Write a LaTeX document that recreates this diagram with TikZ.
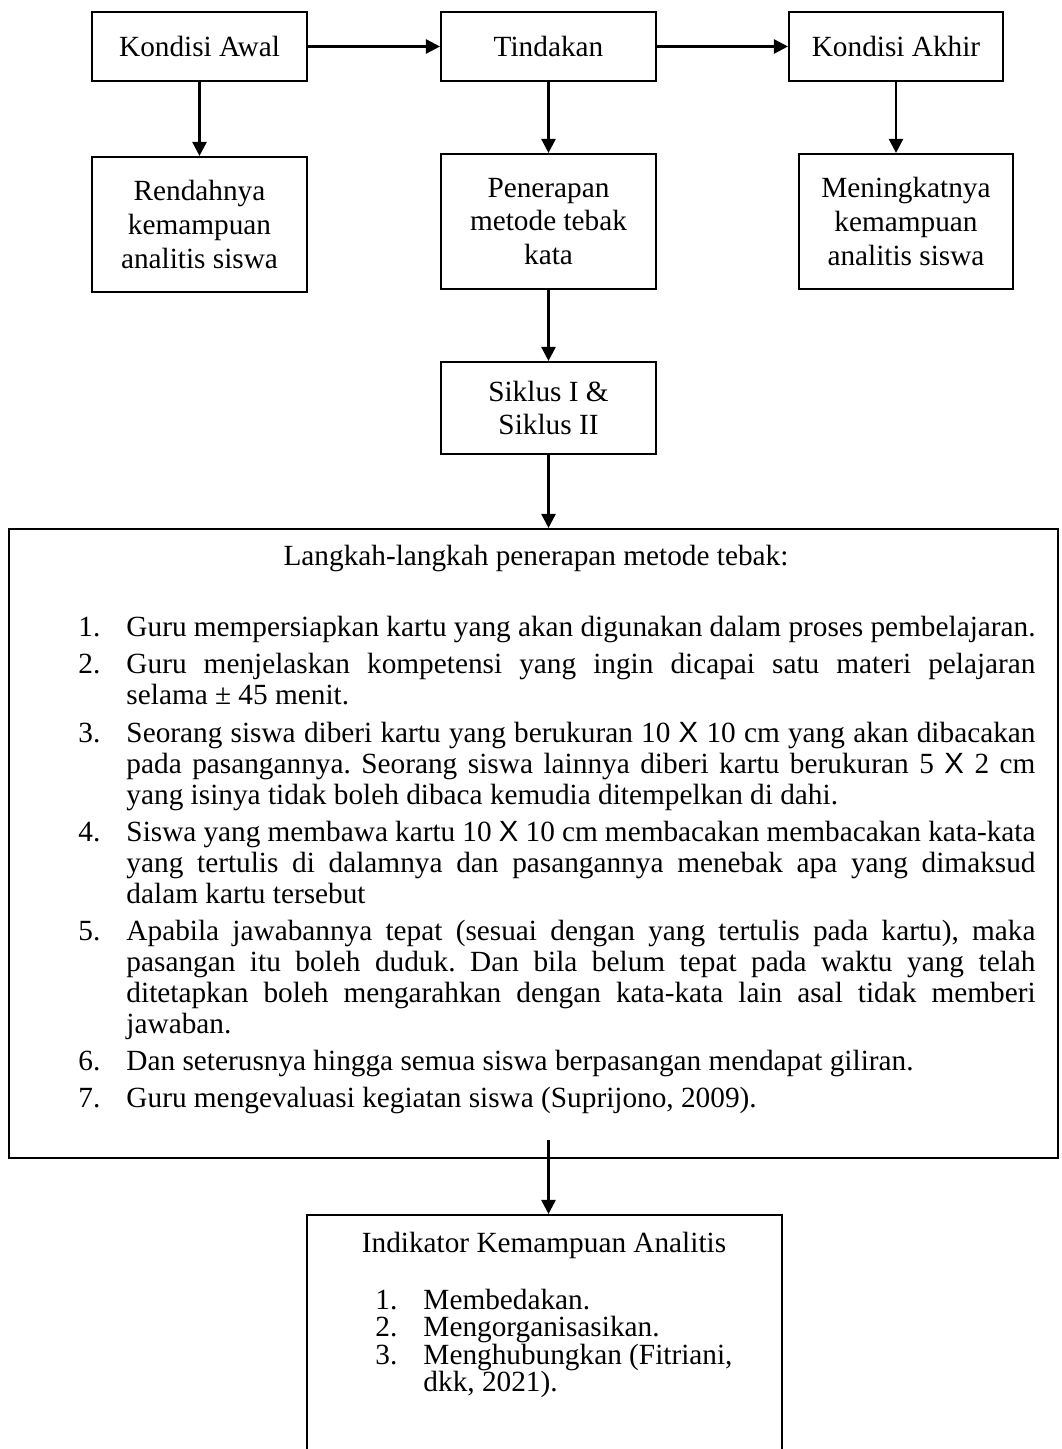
\documentclass[tikz,border=0pt]{standalone}
\usepackage{fontspec}
\setmainfont{Liberation Serif}
\newfontfamily\crossfont{Liberation Sans}
\usetikzlibrary{positioning,arrows.meta}

\newlength\px
\setlength\px{0.01441cm}
\newcommand{\kali}{{\crossfont X}}
\newcommand{\langkah}[2]{\noindent\llap{\makebox[48\px][l]{#1.}}\rule{0pt}{10pt}#2\par}

\tikzset{
  box/.style={draw, line width=0.85pt, align=center, inner sep=0pt,
    font=\fontsize{12}{13.8}\selectfont},
  panel/.style={draw, line width=0.85pt, inner sep=0pt},
  flow/.style={-{Triangle[length=5.8pt,width=5.8pt]}, line width=1pt},
}

\begin{document}
\frenchspacing
\begin{tikzpicture}[x=0.01441cm, y=-0.01441cm]
    \useasboundingbox (0,0) rectangle (1061,1449);
    \clip (0,0) rectangle (1061,1449);

    % Top row
    \node[box, minimum width=215\px, minimum height=69\px] (awal) at (199.5,46.5) {Kondisi Awal};
    \node[box, minimum width=215\px, minimum height=69\px] (tindakan) at (548.5,46.5) {Tindakan};
    \node[box, minimum width=214\px, minimum height=69\px] (akhir) at (896,46.5) {Kondisi Akhir};

    % Second row
    \node[box, minimum width=215\px, minimum height=135\px] (rendah) at (199.5,224.5) {Rendahnya\\kemampuan\\analitis siswa};
    \node[box, minimum width=215\px, minimum height=135\px] (terap) at (548.5,221.5) {Penerapan\\metode tebak\\kata};
    \node[box, minimum width=214\px, minimum height=135\px] (tingkat) at (906,221.5) {Meningkatnya\\kemampuan\\analitis siswa};
    \node[box, minimum width=215\px, minimum height=92\px] (siklus) at (548.5,408) {Siklus I \&\\Siklus II};

    % Steps panel
    \node[panel, minimum width=1049\px, minimum height=629\px] (langkah) at (533.4,843.5) {};
    \node[anchor=base, font=\fontsize{12}{13.8}\selectfont] (judul) at (536,565) {Langkah-langkah penerapan metode tebak:};
    \node[anchor=north west, text width=909\px, align=justify, inner sep=0pt,
      font=\fontsize{12}{12.7}\selectfont] (daftar) at (126,612) {%
      \setlength{\parskip}{2.5pt}\hyphenpenalty=10000 \tolerance=9999 %
      \langkah{1}{Guru mempersiapkan kartu yang akan digunakan dalam proses pembelajaran.}
      \langkah{2}{Guru menjelaskan kompetensi yang ingin dicapai satu materi pelajaran\linebreak
        selama ± 45 menit.}
      \langkah{3}{Seorang siswa diberi kartu yang berukuran 10 \kali{} 10 cm yang akan dibacakan\linebreak
        pada pasangannya. Seorang siswa lainnya diberi kartu berukuran 5 \kali{} 2 cm\linebreak
        yang isinya tidak boleh dibaca kemudia ditempelkan di dahi.}
      \langkah{4}{Siswa yang membawa kartu 10 \kali{} 10 cm membacakan membacakan kata-kata\linebreak
        yang tertulis di dalamnya dan pasangannya menebak apa yang dimaksud\linebreak
        dalam kartu tersebut}
      \langkah{5}{Apabila jawabannya tepat (sesuai dengan yang tertulis pada kartu), maka\linebreak
        pasangan itu boleh duduk. Dan bila belum tepat pada waktu yang telah\linebreak
        ditetapkan boleh mengarahkan dengan kata-kata lain asal tidak memberi\linebreak
        jawaban.}
      \langkah{6}{Dan seterusnya hingga semua siswa berpasangan mendapat giliran.}
      \langkah{7}{Guru mengevaluasi kegiatan siswa (Suprijono, 2009).}};

    % Indicator panel
    \node[panel, minimum width=475\px, minimum height=280\px, anchor=north] (indikator) at (544.5,1214) {};
    \node[anchor=base, font=\fontsize{12}{13.8}\selectfont] (indjudul) at (544,1252) {Indikator Kemampuan Analitis};
    \node[anchor=north west, align=left, inner sep=0pt, font=\fontsize{12}{11.1}\selectfont] (indlist) at (423,1285) {%
      \llap{\makebox[48\px][l]{1.}}\rule{0pt}{10pt}Membedakan.\\
      \llap{\makebox[48\px][l]{2.}}Mengorganisasikan.\\
      \llap{\makebox[48\px][l]{3.}}Menghubungkan (Fitriani,\\
      dkk, 2021).};

    % Arrows
    \draw[flow] (awal) -- (tindakan);
    \draw[flow] (tindakan) -- (akhir);
    \draw[flow] (awal) -- (rendah);
    \draw[flow] (tindakan) -- (terap);
    \draw[flow] (akhir.south) -- (akhir.south |- tingkat.north);
    \draw[flow] (terap) -- (siklus);
    \draw[flow] (siklus) -- (langkah.north -| siklus);
    \coordinate (ekor) at (548.5,1140);
    \draw[flow] (ekor) -- (ekor |- indikator.north);
\end{tikzpicture}
\end{document}
